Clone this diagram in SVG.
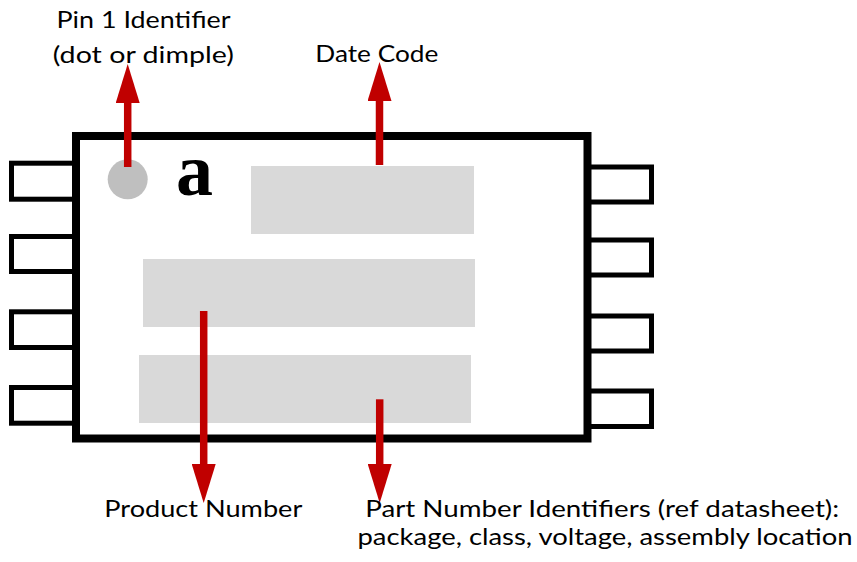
<svg xmlns="http://www.w3.org/2000/svg" width="857" height="562" viewBox="0 0 857 562">
<style>
.pin{fill:#fff;stroke:#000;stroke-width:5}
.body{fill:#fff;stroke:#000;stroke-width:8}
.field{fill:#D9D9D9}
.arrow{stroke:#C00000;stroke-width:7.5;fill:none}
.lbl{font-family:Lato,"Liberation Sans",sans-serif;font-size:23.5px;fill:#000;text-anchor:middle}
</style>
<defs>
<marker id="ah" markerUnits="userSpaceOnUse" markerWidth="40" markerHeight="24" viewBox="0 0 40 24" refX="0" refY="12" orient="auto">
<path d="M0,0 L39,12 L0,24 Z" fill="#C00000"/>
</marker>
</defs>
<g id="pins-left">
<rect class="pin" x="11.5" y="163.2" width="64.5" height="36"/>
<rect class="pin" x="11.5" y="236.5" width="64.5" height="35"/>
<rect class="pin" x="11.5" y="311.8" width="64.5" height="35.7"/>
<rect class="pin" x="11.5" y="387.5" width="64.5" height="35.7"/>
</g>
<g id="pins-right">
<rect class="pin" x="587.5" y="167" width="64" height="35"/>
<rect class="pin" x="587.5" y="240" width="64" height="35"/>
<rect class="pin" x="587.5" y="316" width="64" height="35"/>
<rect class="pin" x="587.5" y="391" width="64" height="35.5"/>
</g>
<g id="package">
<rect class="body" x="76" y="136" width="511.5" height="302.5"/>
<circle cx="127.7" cy="179.3" r="20" fill="#BFBFBF"/>
<text x="176" y="194.5" font-family="'Liberation Serif',serif" font-weight="bold" font-size="74">a</text>
</g>
<g id="date-field"><rect class="field" x="251" y="166" width="223" height="68"/></g>
<g id="product-field"><rect class="field" x="143" y="259" width="332" height="68"/></g>
<g id="part-field"><rect class="field" x="139" y="355" width="332" height="68"/></g>
<g id="connectors">
<line class="arrow" x1="127.7" y1="167" x2="127.7" y2="103" marker-end="url(#ah)"/>
<line class="arrow" x1="379.5" y1="165" x2="379.5" y2="101" marker-end="url(#ah)"/>
<line class="arrow" x1="203.7" y1="311" x2="203.7" y2="464" marker-end="url(#ah)"/>
<line class="arrow" x1="379.7" y1="399.3" x2="379.7" y2="464" marker-end="url(#ah)"/>
</g>
<g id="label-pin1">
<text class="lbl" x="143.5" y="28.3" textLength="174" lengthAdjust="spacingAndGlyphs">Pin 1 Identifier</text>
<text class="lbl" x="143.3" y="63.3" textLength="181" lengthAdjust="spacingAndGlyphs">(dot or dimple)</text>
</g>
<g id="label-date">
<text class="lbl" x="376.8" y="61.7" textLength="123" lengthAdjust="spacingAndGlyphs">Date Code</text>
</g>
<g id="label-product">
<text class="lbl" x="203.3" y="517.3" textLength="198" lengthAdjust="spacingAndGlyphs">Product Number</text>
</g>
<g id="label-part">
<text class="lbl" x="602.2" y="517.3" textLength="474" lengthAdjust="spacingAndGlyphs">Part Number Identifiers (ref datasheet):</text>
<text class="lbl" x="605" y="545" textLength="495" lengthAdjust="spacingAndGlyphs">package, class, voltage, assembly location</text>
</g>
</svg>
